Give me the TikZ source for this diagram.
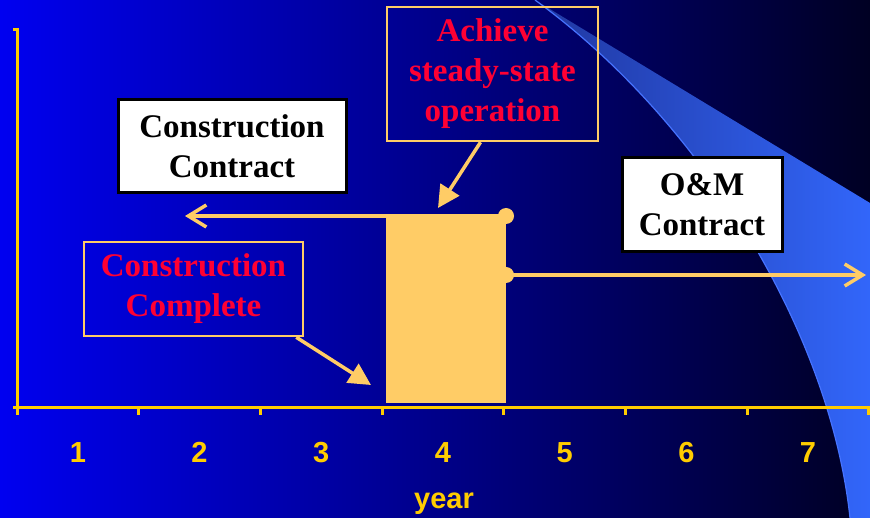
\documentclass[tikz,border=0pt]{standalone}
\usepackage{fontspec}
\setmainfont{Liberation Serif}
\newfontfamily\axisfont{Liberation Sans}
\usepackage{xcolor}
\usepackage{tikz}
\usetikzlibrary{arrows.meta,calc}
\definecolor{bgleft}{RGB}{0,0,240}
\definecolor{bgmid}{RGB}{0,0,170}
\definecolor{bgright}{RGB}{0,0,35}
\definecolor{swleft}{RGB}{32,55,160}
\definecolor{swright}{RGB}{50,102,250}
\definecolor{swedge}{RGB}{70,115,255}
\definecolor{axisyellow}{RGB}{255,204,0}
\definecolor{barorange}{RGB}{255,204,102}
\definecolor{labelred}{RGB}{255,0,51}

\begin{document}
\begin{tikzpicture}[x=1pt,y=-1pt,
	axisline/.style={axisyellow,line width=3pt},
	whitebox/.style={draw=black,fill=white,line width=3pt,align=center,inner sep=0pt,
		font=\fontsize{33}{40}\selectfont\bfseries,text=black},
	orangebox/.style={draw=barorange,line width=2.5pt,align=center,inner sep=0pt,
		font=\fontsize{33}{40}\selectfont\bfseries,text=labelred},
	yearnum/.style={text=axisyellow,anchor=base,font=\axisfont\bfseries\fontsize{29}{34}\selectfont},
	pointer/.style={barorange,line width=3.5pt,-{Triangle[length=22pt,width=22pt]}},
	span/.style={barorange,line width=3.5pt,line cap=round,-{Straight Barb[length=18pt,width=22pt]}}]
		\useasboundingbox (0,0) rectangle (870,518);
		%background
		\shade[left color=bgleft,middle color=bgmid,right color=bgright] (0,0) rectangle (870,518);
		%swoosh
		\shade[left color=swleft,right color=swright] (535,0) -- (870,203) -- (870,518) -- (850,518)
			.. controls (830,330) and (700,120) .. (535,0) -- cycle;
		\draw[swedge,line width=1.2pt] (535,0) .. controls (700,120) and (830,330) .. (850,518);
		
		%axes
		\draw[axisline] (13,30) -- (17,30) -- (17,407);
		\draw[axisline] (13,407) -- (870,407);
		\foreach \k in {0,...,7}
			\draw[axisline] ({17+121.7*\k},407) -- ++(0,8);
		\foreach \n in {1,...,7}
			\node[yearnum] (yr\n) at ({17+121.7*(\n-0.5)},462) {\n};
		\node[yearnum] (yearlabel) at (444,508) {year};
		
		%bar
		\fill[barorange] (386,215) rectangle (506,403);
		%contract spans
		\coordinate (dotA) at (506,216);
		\coordinate (dotB) at (506,275);
		\coordinate (leftend) at (185,216);
		\coordinate (rightend) at (866,275);
		\draw[span] (dotA) -- (leftend);
		\draw[span] (dotB) -- (rightend);
		\fill[barorange] (dotA) circle (8pt);
		\fill[barorange] (dotB) circle (8pt);
		
		%boxes
		\node[whitebox,minimum width=228pt,minimum height=93pt] (constr) at (232,146) {Construction\\Contract};
		\node[whitebox,minimum width=160pt,minimum height=94pt] (om) at (702,205) {O\&M\\Contract};
		\node[orangebox,minimum width=211pt,minimum height=134pt] (steady) at (492.5,74) {Achieve\\steady-state\\operation};
		\node[orangebox,minimum width=219pt,minimum height=94pt] (done) at (193.5,289) {Construction\\Complete};
		
		%pointers
		\coordinate (steadytip) at (438,208);
		\coordinate (donetip) at (371,385);
		\draw[pointer] ($(steady.south)+(-12,0)$) -- (steadytip);
		\draw[pointer] ($(done.south east)+(-8,0)$) -- (donetip);
	\end{tikzpicture}
\end{document}
